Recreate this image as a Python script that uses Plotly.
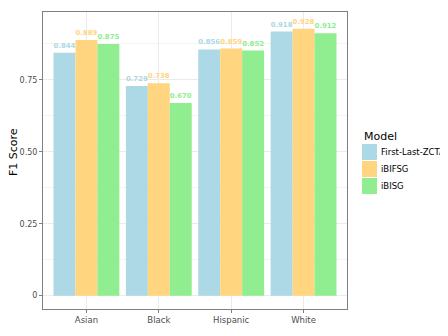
import plotly.graph_objects as go

groups = ["Asian", "Black", "Hispanic", "White"]
models = ["First-Last-ZCTA", "iBIFSG", "iBISG"]
f1_zcta = [0.844, 0.729, 0.856, 0.918]
f1_bifsg = [0.889, 0.738, 0.859, 0.928]
f1_bisg = [0.875, 0.670, 0.852, 0.912]
colors = ["#ADD8E6", "#FFD580", "#90EE90"]

# the page body adds an 8px margin, so the figure is a bit smaller and offset
W, H, OFF = 440, 320, 8

fig = go.Figure()
for name, vals, c in zip(models, [f1_zcta, f1_bifsg, f1_bisg], colors):
    fig.add_trace(go.Bar(x=groups, y=vals, name=name, marker_color=c,
                         marker_line_width=0,
                         text=[f"<b>{v:.3f}</b>" for v in vals],
                         textposition="outside", cliponaxis=False,
                         textfont=dict(color=c, size=7, family="DejaVu Sans"),
                         showlegend=False))

# legend drawn by hand (ggplot-style big keys), positions in screen pixels
shapes = []
annots = [dict(x=362, y=136, text="Model", xanchor="left",
               font=dict(size=11, color="black")),
          dict(x=13, y=152, text="F1 Score", xanchor="center", textangle=-90,
               font=dict(size=11, color="black"))]
for i, (name, c) in enumerate(zip(models, colors)):
    y0 = 144 + i * 17
    shapes.append(dict(type="rect", xref="paper", yref="paper", x0=362, x1=377, y0=y0, y1=y0 + 16,
                       fillcolor=c, line_width=0))
    annots.append(dict(x=379, y=y0 + 8, text=name, xanchor="left",
                       font=dict(size=8.5, color="black")))

# panel box in screen pixels: x 43..347, y 12..309
L, T = 43 - OFF, 12 - OFF
R, B = W - (347 - OFF), H - (309 - OFF)
pw, ph = W - L - R, H - T - B


def px(x):
    return (x - OFF - L) / pw


def py(y):
    return (H - B - (y - OFF)) / ph


for s in shapes:
    s["x0"], s["x1"] = px(s["x0"]), px(s["x1"])
    s["y0"], s["y1"] = py(s["y1"]), py(s["y0"])
for a in annots:
    a["x"], a["y"] = px(a["x"]), py(a["y"])
    a.update(xref="paper", yref="paper", showarrow=False, yanchor="middle")

fig.update_layout(
    width=W, height=H,
    margin=dict(l=L, r=R, t=T, b=B, autoexpand=False),
    barmode="group", bargap=0.09, bargroupgap=0,
    plot_bgcolor="white", paper_bgcolor="white",
    font=dict(family="DejaVu Sans", color="#4d4d4d"),
    shapes=shapes, annotations=annots,
)
fig.update_xaxes(range=[-0.6, 3.6], showline=True, mirror=True, linecolor="#7f7f7f", linewidth=1,
                 showgrid=True, gridcolor="#ebebeb", gridwidth=1, automargin=False,
                 ticks="outside", ticklen=3, tickcolor="#7f7f7f", tickfont=dict(size=8.5),
                 zeroline=False)
fig.update_yaxes(range=[-0.0464, 0.986], showline=True, mirror=True, linecolor="#7f7f7f", linewidth=1,
                 tickvals=[0, 0.25, 0.5, 0.75], ticktext=["0", "0.25", "0.50", "0.75"],
                 showgrid=True, gridcolor="#ebebeb", gridwidth=1, automargin=False,
                 minor=dict(tickvals=[0.125, 0.375, 0.625, 0.875], showgrid=True,
                            gridcolor="#f3f3f3", gridwidth=0.6),
                 ticks="outside", ticklen=3, tickcolor="#7f7f7f", tickfont=dict(size=8),
                 zeroline=False)

fig.write_html("out.html")
